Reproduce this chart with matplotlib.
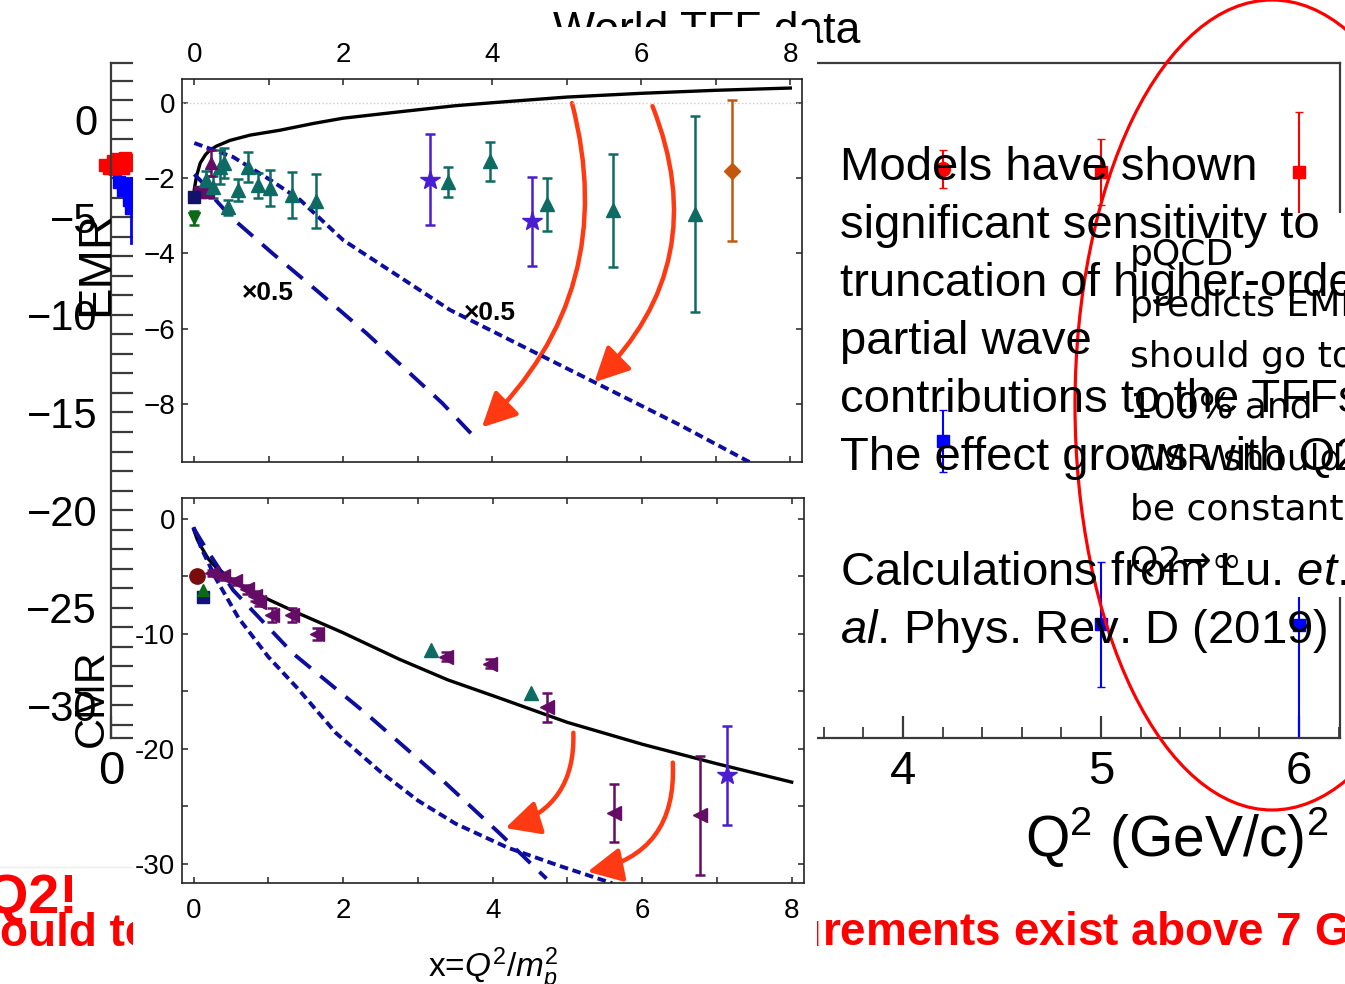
import matplotlib.pyplot as plt
from matplotlib.patches import Rectangle, Ellipse, FancyArrowPatch
from matplotlib.ticker import MultipleLocator, FuncFormatter

plt.rcParams['font.family'] = ['Liberation Sans', 'DejaVu Sans']
plt.rcParams['mathtext.fontset'] = 'custom'
plt.rcParams['mathtext.rm'] = 'Liberation Sans'
plt.rcParams['mathtext.it'] = 'Liberation Sans:italic'
plt.rcParams['mathtext.bf'] = 'Liberation Sans:bold'

## background "World TFF data" plot, mostly hidden behind the inset
bg_q2 = [4.2, 5.0, 6.0]
bg_emr = [-2.5, -2.67, -2.67]
bg_emr_err = [0.97, 1.7, 3.1]
bg_cmr = [-16.45, -25.85, -25.9]
bg_cmr_err = [1.6, 3.2, 6.0]
bg_low_emr_x = [-0.03, -0.01, 0.01, 0.03, 0.05, 0.07, 0.09, 0.02, 0.06, 0.08]
bg_low_emr_y = [-2.3, -2.45, -2.1, -2.0, -2.2, -1.95, -2.05, -2.5, -2.45, -2.3]
bg_low_cmr_x = [0.04, 0.06, 0.08, 0.09, 0.10, 0.10]
bg_low_cmr_y = [-3.2, -3.6, -3.5, -4.1, -4.5, -3.3]

## inset: EMR vs x = Q^2/m_p^2
emr_model_x = [0.0, 0.03, 0.08, 0.15, 0.21, 0.3, 0.48, 0.75, 1.15, 1.6, 2.0, 2.76, 3.5, 4.0, 5.0, 6.0, 7.0, 8.0]
emr_model_y = [-2.3, -1.95, -1.6, -1.38, -1.26, -1.15, -1.0, -0.86, -0.73, -0.55, -0.41, -0.24, -0.08, 0.0, 0.15, 0.25, 0.33, 0.39]
emr_short_x = [0.0, 0.52, 1.02, 1.42, 2.0, 2.76, 3.43, 4.51, 5.45, 6.52, 7.46]
emr_short_y = [-1.07, -1.44, -2.05, -2.58, -3.65, -4.63, -5.5, -6.57, -7.5, -8.56, -9.55]
emr_long_x = [0.0, 0.1, 0.25, 0.5, 1.05, 1.64, 2.31, 3.33, 3.8]
emr_long_y = [-1.9, -2.1, -2.5, -3.05, -4.0, -4.98, -6.12, -7.98, -8.96]

emr_tri_x = [0.16, 0.25, 0.34, 0.40, 0.45, 0.58, 0.72, 0.86, 1.02, 1.31, 1.64, 3.40, 3.97, 4.73, 5.62, 6.72]
emr_tri_y = [-2.05, -2.24, -1.70, -1.60, -2.77, -2.32, -1.71, -2.19, -2.27, -2.45, -2.6, -2.1, -1.55, -2.7, -2.85, -2.95]
emr_tri_err = [0.25, 0.30, 0.45, 0.40, 0.20, 0.30, 0.40, 0.33, 0.48, 0.62, 0.72, 0.40, 0.52, 0.70, 1.50, 2.60]
emr_star_x = [3.17, 4.53]
emr_star_y = [-2.05, -3.15]
emr_star_err = [1.21, 1.19]
emr_dia_x = [7.22]
emr_dia_y = [-1.8]
emr_dia_err = [1.86]
emr_sq_x = [0.08, 0.18]
emr_sq_y = [-2.37, -2.37]
emr_pt_x = [0.23]
emr_pt_y = [-1.6]
emr_pt_err = [0.35]
emr_nv_x = [0.0]
emr_nv_y = [-2.5]
emr_gr_x = [0.0]
emr_gr_y = [-3.06]
emr_gr_err = [0.18]

## inset: CMR vs x
cmr_model_x = [0.0, 0.05, 0.1, 0.2, 0.3, 0.5, 0.75, 1.0, 1.4, 2.0, 2.75, 3.4, 4.1, 5.0, 6.0, 7.0, 8.0]
cmr_model_y = [-0.9, -1.8, -2.4, -3.5, -4.2, -5.2, -6.2, -7.0, -8.2, -9.9, -12.2, -14.0, -15.6, -17.7, -19.6, -21.3, -22.9]
cmr_short_x = [0.0, 0.1, 0.3, 0.6, 1.0, 1.4, 1.9, 2.5, 3.0, 3.5, 4.2, 4.9, 5.6]
cmr_short_y = [-0.7, -2.5, -5.2, -8.6, -12.0, -14.8, -18.6, -22.0, -24.5, -26.5, -28.6, -30.2, -31.7]
cmr_long_x = [0.0, 0.15, 0.53, 1.33, 2.32, 3.34, 4.1, 4.72]
cmr_long_y = [-0.8, -2.4, -6.2, -11.7, -17.0, -22.8, -27.4, -31.3]

cmr_tri_x = [0.25, 0.40, 0.56, 0.72, 0.82, 0.88, 1.05, 1.31, 1.65, 3.37, 3.97, 4.73, 5.63, 6.77]
cmr_tri_y = [-4.7, -5.0, -5.4, -6.1, -6.7, -7.2, -8.35, -8.35, -10.0, -12.0, -12.6, -16.4, -25.6, -25.8]
cmr_tri_err = [0.3, 0.3, 0.3, 0.4, 0.4, 0.4, 0.6, 0.6, 0.5, 0.4, 0.4, 1.3, 2.55, 5.15]
cmr_up_x = [3.17, 4.51]
cmr_up_y = [-11.4, -15.1]
cmr_star_x = [7.13]
cmr_star_y = [-22.3]
cmr_star_err = [4.3]
cmr_circ_x = [0.05]
cmr_circ_y = [-5.0]
cmr_gr_x = [0.13]
cmr_gr_y = [-6.2]
cmr_nv_x = [0.13]
cmr_nv_y = [-6.8]

models_lines = ["Models have shown", "significant sensitivity to", "truncation of higher-order",
                "partial wave", "contributions to the TFFs.", "The effect grows with Q2"]
cite_lines = ["Calculations from Lu. $\\it{et}$.", "$\\it{al}$. Phys. Rev. D (2019)"]
pqcd_lines = ["pQCD", "predicts EMR", "should go to", "100% and", "CMR should", "be constant", "Q2\u2192\u221e"]

W, H = 1345, 984
fig = plt.figure(figsize=(W / 100, H / 100), dpi=100)


def box(l, t, r, b):
    return [l / W, 1 - b / H, (r - l) / W, (b - t) / H]


def layer(z):
    a = fig.add_axes([0, 0, 1, 1], zorder=z)
    a.set_xlim(0, W)
    a.set_ylim(H, 0)
    a.axis('off')
    return a


teal = '#0e6b64'
purple = '#640c66'
violet = '#4a1dd0'
navy = '#0d0d9e'
arrow_red = '#ff3a12'

## layer -1: text that the inset covers
canvas = layer(-1)
canvas.text(553, 43, "World TFF data", fontsize=32, ha='left', va='baseline')
canvas.text(1025, 857, "Q$^2$ (GeV/c)$^2$", fontsize=41, ha='left', va='baseline')
canvas.text(78, 913, "with Q2!", fontsize=40, fontweight='bold', color='red', ha='right', va='baseline')
canvas.text(0, 946, "ould test this", fontsize=33, fontweight='bold', color='red', ha='left', va='baseline')
canvas.text(822, 946, "su", fontsize=33, fontweight='bold', color='red', ha='right', va='baseline')
canvas.text(822, 946, "rements exist above 7 GeV$^\\mathbf{2}$", fontsize=33, fontweight='bold',
            color='red', ha='left', va='baseline')
canvas.plot([0, 133], [867, 867], color='#ededed', lw=1)

## layer 0: background plot
ax_bg = fig.add_axes(box(111, 63, 1340, 738), zorder=0)
ax_bg.set_facecolor('none')
ax_bg.set_xlim(0, 6.207)
ax_bg.set_ylim(-31.69, 2.92)
for s in ax_bg.spines.values():
    s.set_color('#3a3a3a')
    s.set_linewidth(1.6)
ax_bg.yaxis.set_major_locator(MultipleLocator(5))
ax_bg.yaxis.set_minor_locator(MultipleLocator(1))
ax_bg.xaxis.set_major_locator(MultipleLocator(1))
ax_bg.xaxis.set_minor_locator(MultipleLocator(0.2))
ax_bg.tick_params(axis='y', which='both', direction='in', length=16, width=1.6, color='#3a3a3a',
                  right=False, labelsize=30, pad=10)
ax_bg.tick_params(axis='x', which='major', direction='in', length=16, width=1.6, color='#3a3a3a',
                  top=False, labelsize=34, pad=9)
ax_bg.tick_params(axis='x', which='minor', direction='in', length=8, width=1.3, color='#3a3a3a', top=False)
ax_bg.errorbar(bg_q2[:1], bg_emr[:1], yerr=bg_emr_err[:1], fmt='o', color='red', ms=10, elinewidth=1.5, capsize=3)
ax_bg.errorbar(bg_q2[1:], bg_emr[1:], yerr=bg_emr_err[1:], fmt='s', color='red', ms=9, elinewidth=1.5, capsize=3)
ax_bg.errorbar(bg_q2, bg_cmr, yerr=bg_cmr_err, fmt='s', color='blue', ms=9, elinewidth=1.5, capsize=3)
ax_bg.plot(bg_low_emr_x, bg_low_emr_y, 's', color='red', ms=9, clip_on=False)
ax_bg.plot(bg_low_cmr_x, bg_low_cmr_y, 's', color='blue', ms=9, clip_on=False)
ax_bg.plot([0.1, 0.1], [-3.0, -6.3], color='blue', lw=2, clip_on=False)

## layer 1: white image areas
mask = layer(1)
mask.add_patch(Rectangle((133, 27), 817 - 133, H - 27, facecolor='white', edgecolor='none'))
mask.add_patch(Rectangle((1128, 213), W - 1128, 597 - 213, facecolor='white', edgecolor='none'))


def style_inset(ax):
    for s in ax.spines.values():
        s.set_color('#222222')
        s.set_linewidth(1.2)
    ax.tick_params(which='both', direction='in', length=4.5, width=1.1, top=True, right=True,
                   labelsize=20, color='#222222')


def arrow(ax, a, b, rad):
    ax.add_patch(FancyArrowPatch(a, b, connectionstyle=f"arc3,rad={rad}",
                                 arrowstyle='-|>,head_length=1.0,head_width=0.5', mutation_scale=21,
                                 color=arrow_red, lw=3.2, shrinkA=0, shrinkB=0))


## layer 2: EMR inset
ax1 = fig.add_axes(box(182, 79, 802, 462), zorder=2)
ax1.set_xlim(-0.165, 8.157)
ax1.set_ylim(-9.54, 0.63)
style_inset(ax1)
ax1.xaxis.set_major_locator(MultipleLocator(2))
ax1.xaxis.set_minor_locator(MultipleLocator(1))
ax1.yaxis.set_major_locator(MultipleLocator(2))
ax1.tick_params(axis='x', labeltop=True, labelbottom=False, pad=8)
ax1.tick_params(axis='y', pad=5)
ax1.axhline(0, color='#cccccc', ls=':', lw=1)
ax1.plot(emr_model_x, emr_model_y, color='black', lw=2.4)
ax1.plot(emr_short_x, emr_short_y, color=navy, lw=2.8, dashes=(2.2, 1.2))
ax1.plot(emr_long_x, emr_long_y, color=navy, lw=2.8, dashes=(5.2, 3.2))
eb = dict(elinewidth=1.8, capsize=3.5, capthick=1.8)
ax1.errorbar(emr_tri_x, emr_tri_y, yerr=emr_tri_err, fmt='^', color=teal, ms=10, **eb)
ax1.errorbar(emr_star_x, emr_star_y, yerr=emr_star_err, fmt='*', color=violet, ms=15, **eb)
ax1.errorbar(emr_dia_x, emr_dia_y, yerr=emr_dia_err, fmt='D', color='#c25810', ms=8, **eb)
ax1.plot(emr_sq_x, emr_sq_y, 's', color=purple, ms=9)
ax1.errorbar(emr_pt_x, emr_pt_y, yerr=emr_pt_err, fmt='^', color=purple, ms=9, **eb)
ax1.plot(emr_nv_x, emr_nv_y, 's', color='#121268', ms=8)
ax1.errorbar(emr_gr_x, emr_gr_y, yerr=emr_gr_err, fmt='v', color='#0b6a14', ms=9, **eb)
ax1.text(0.64, -5.05, "\u00d70.5", fontsize=19, fontweight='bold', ha='left', va='center')
ax1.text(3.62, -5.58, "\u00d70.5", fontsize=19, fontweight='bold', ha='left', va='center')
arrow(ax1, (5.07, -0.01), (3.86, -8.62), -0.29)
arrow(ax1, (6.15, -0.09), (5.37, -7.42), -0.33)

## layer 2: CMR inset
ax2 = fig.add_axes(box(182, 498, 804, 883), zorder=2)
ax2.set_xlim(-0.155, 8.165)
ax2.set_ylim(-31.68, 1.83)
style_inset(ax2)
ax2.xaxis.set_major_locator(MultipleLocator(2))
ax2.xaxis.set_minor_locator(MultipleLocator(1))
ax2.yaxis.set_major_locator(MultipleLocator(10))
ax2.yaxis.set_minor_locator(MultipleLocator(5))
ax2.yaxis.set_major_formatter(FuncFormatter(lambda v, p: str(int(round(v)))))
ax2.tick_params(axis='x', pad=11)
ax2.tick_params(axis='y', pad=5)
ax2.plot(cmr_model_x, cmr_model_y, color='black', lw=2.4)
ax2.plot(cmr_short_x, cmr_short_y, color=navy, lw=2.8, dashes=(2.2, 1.2))
ax2.plot(cmr_long_x, cmr_long_y, color=navy, lw=2.8, dashes=(5.2, 3.2))
ax2.errorbar(cmr_tri_x, cmr_tri_y, yerr=cmr_tri_err, fmt='<', color=purple, ms=10, **eb)
ax2.plot(cmr_up_x, cmr_up_y, '^', color=teal, ms=10)
ax2.errorbar(cmr_star_x, cmr_star_y, yerr=cmr_star_err, fmt='*', color=violet, ms=15, **eb)
ax2.plot(cmr_nv_x, cmr_nv_y, 's', color='#121278', ms=8)
ax2.plot(cmr_gr_x, cmr_gr_y, '^', color='#0b6a14', ms=9)
ax2.plot(cmr_circ_x, cmr_circ_y, 'o', color='#7a0c0c', ms=11)
arrow(ax2, (5.08, -18.6), (4.17, -26.9), -0.38)
arrow(ax2, (6.41, -21.2), (5.27, -30.7), -0.43)

## layer 3: slide text and the red ellipse
over = layer(3)
over.text(96, 263, "EMR", fontsize=34, rotation=90, ha='center', va='center')
over.text(92, 698, "CMR", fontsize=31, rotation=90, ha='center', va='center')
over.text(428, 977, "x=$Q^2/m_p^2$", fontsize=24, ha='left', va='baseline')
for i, line in enumerate(models_lines):
    over.text(840, 180 + 58 * i, line, fontsize=34, ha='left', va='baseline')
for i, line in enumerate(cite_lines):
    over.text(840, 585 + 58 * i, line, fontsize=34, ha='left', va='baseline')
for i, line in enumerate(pqcd_lines):
    over.text(1130, 265 + 51 * i, line, fontsize=26, family=['DejaVu Sans'], ha='left', va='baseline')
over.add_patch(Ellipse((1272, 405), 394, 810, fill=False, edgecolor='red', lw=2.3))

fig.savefig('out.png', dpi=100)
